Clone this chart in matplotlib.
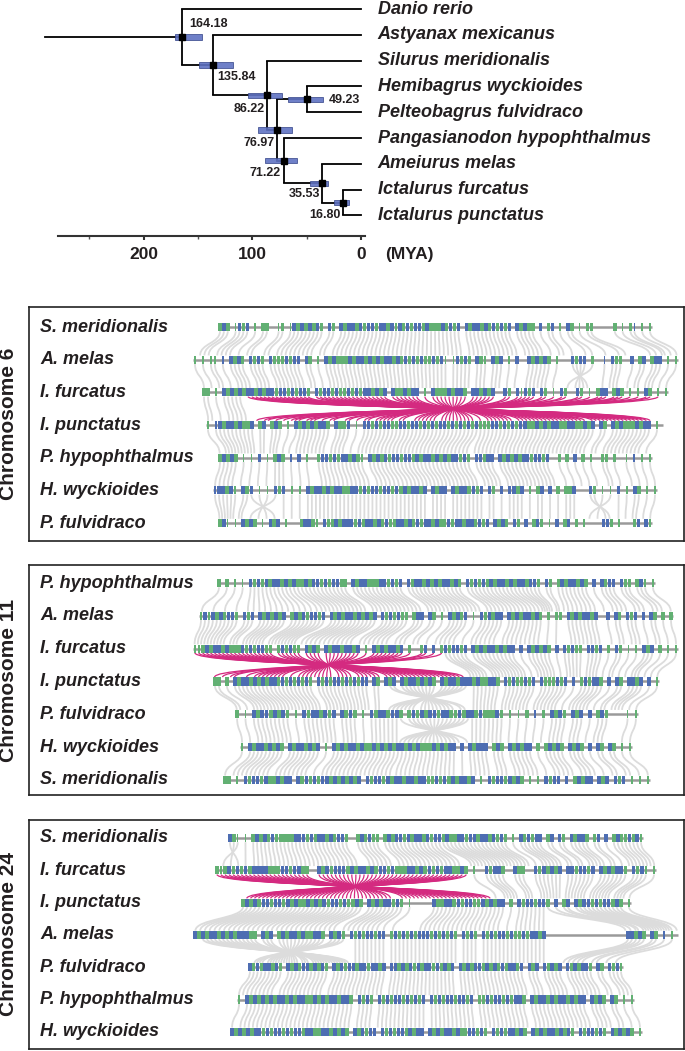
import numpy as np
import matplotlib.pyplot as plt
from matplotlib.path import Path
from matplotlib.patches import PathPatch
from matplotlib.collections import PatchCollection

plt.rcParams['font.family'] = ['Liberation Sans', 'DejaVu Sans']

# ---------------- tree data ----------------
leaves = ["Danio rerio", "Astyanax mexicanus", "Silurus meridionalis",
          "Hemibagrus wyckioides", "Pelteobagrus fulvidraco",
          "Pangasianodon hypophthalmus", "Ameiurus melas",
          "Ictalurus furcatus", "Ictalurus punctatus"]
node_age = [164.18, 135.84, 86.22, 49.23, 76.97, 71.22, 35.53, 16.80]
node_kids = [("L0", "N1"), ("L1", "N2"), ("L2", "N4"), ("L3", "L4"),
             ("N3", "N5"), ("L5", "N6"), ("L6", "N7"), ("L7", "L8")]
hpd_low = [146, 118, 73, 35, 63, 59, 30, 11]
hpd_high = [171, 149, 104, 67, 95, 88, 47, 25]
root_age = 291
time_ticks = [0, 100, 200]
time_minor = [50, 150, 250]

# ---------------- synteny data (positions along the panel) ----------------
# gene strings: g/b = green/blue gene, G/B = small gene, - = no gene
chr6_species = ["S. meridionalis", "A. melas", "I. furcatus", "I. punctatus",
                "P. hypophthalmus", "H. wyckioides", "P. fulvidraco"]
chr6_start = [218, 193, 202, 206, 218, 213, 218]
chr6_end = [652, 678, 668, 663, 652, 657, 652]
chr6_genes = [
    "gbg-Gbgb-G-gg--Gg-Gbgbgbgbg-bg-bgbbgbgbbgbbgbGbgbgbbgbgggbgbgb-bgbbgbgbgbgb-bgbgg-b-gb-G-bg-G-gg-----g-G-gB-G-G",
    "G-G-GG-B-bgbg-bgbg-bgggbgbb-bg-G-bgbgggbgbbgbgbgbbgbgbgbgbggbgbG-Gbgbg-bgG-bgb-G-b--bgbgbg-G---bgbb-g--B-bgg--b-gb-gbb-G-G",
    "gg-G-bgbgbgbbgbgbbgbbgbgbbg-bgbbgbggbgbgbbgbgb-bggbgbb-G-bgggbgbbg-bbgbgb--bg-bGbgb-bg-G-bg--bg-G-gbb-gbg-G-G-bg-G-G",
    "G-Bbgbbgbggb-gb-gbg-G-bgbgbgbbg-bggb-G-bbgbgbbggbbgbbgbgbgbbgbgbgbgbgggbbgbgbgbbggbgbgbbggbbggbgb-bg-bgbgggbgbb-G-",
    "gbgbg-G-G-b-G-gbg-B-b-G--gbbgbgbbgbgG-bgbgbgbbgbbgbgbbgbgbgbbgbg-bbgbb-bgbgbgbbgbbgb--g-g-b-g-G--gg-g--G-B-G-G",
    "BbbgbG-bgb-G-G-bgb-G-G-bgbbgbgbbggbbgbgbbgbbgbgbgbbgb-bgbb-bgbbgbgb-bg-b-bbgb-G-gb-b-g-ggb---bg-G-G-b-G-bg-G-G",
    "gbG-G-bgbg-G-bgb-G---gbbgG-bggbgbbbgbgbbgbgbggbbgbgbgbbgbggbgbbgbbgbgb-bgbg-bg-b-gbg-G-b-gb-g-G----bbg-G---gb-bG",
]
chr6_links = [
    [(218, 560, 198, 572), (560, 600, 572, 640), (604, 652, 642, 678)],
    [(193, 560, 202, 556), (562, 598, 598, 562), (604, 678, 602, 668)],
    [(202, 244, 206, 250)],
    [(206, 300, 218, 292), (300, 480, 296, 470), (480, 663, 474, 652)],
    [(218, 400, 213, 410), (400, 652, 410, 657)],
    [(213, 248, 218, 242), (250, 276, 276, 250), (280, 585, 280, 585),
     (587, 613, 613, 587), (617, 657, 617, 652)],
]
chr6_inversion = (2, 246, 665, 652, 250)

chr11_species = ["P. hypophthalmus", "A. melas", "I. furcatus", "I. punctatus",
                 "P. fulvidraco", "H. wyckioides", "S. meridionalis"]
chr11_start = [217, 199, 193, 213, 235, 240, 223]
chr11_end = [655, 673, 678, 659, 638, 632, 650]
chr11_genes = [
    "g-g-G-G-bgbgbgbbgbgbggbgbbgbgbbgg-bgbbgggbbgbgb-bgbbgbgbgbbgbg-bgbgbgbgbbgbgbbgbbg-bg-gbgbbgbg-b-bgbb-bgg-gbG-G",
    "GbGbgbgbbg-bgb-bgbgbgb-gbgbgbbgb-bgbgbbgbgbgb-bgbgbgg-gbb-bg-G-bgbgb-G-bgbgbb-bgbgbbgbg-g-gg-bgbgbbgb--b-bg-bgb-b-bg-g-g",
    "GGgbgbbgbgggbgbgbbgg-gbgbgg-bgbg-bgbbgbbgb-G-bgbgbbgb-g--gb-b-gbgbbgb-bgbgbbgbgbb-b-bgbgbg-b-bgbgg-bbgb-g-bg-G-G-bgb-g-G-G",
    "gg-g-bgbbgbgbgbbgbgbgbgbg-bgbgbbgbgbgbb-bg-bgb-bgbbgbgbg-bgbbgbbbgbggbbg-bgbggbgb-bgggbgb-b-gbgbbg-b-bg-bbgb-b-G",
    "g-G-bgbbgbgbg-G-bgbbgbgb-bgbg-G-bgbbgbbg-gbgbgbbgbbggbgbbgbgggbg-G-G-g-B-g-bgbg-bgb-b-gbg----G-G",
    "G-bgbbgbgbg-bgbbgbgb-G-bgbgbbgbggbgbgbgbbgbgbgggbgbgbb-b-bgbbb-gbg-bgbgbb-g-gbgbg-bgbg-b-bg-bg-G-G",
    "gg-G-bgbbgbggbgbb-bgbgbgbbgbgbgbgb-bgbbgbgbbgbbgbbggbgbgbgbbgb-G-bgbbgbgbg-G-G-bgbb-b-gbgbb-bgb-bgb-G-G-G",
]
chr11_links = [
    [(217, 300, 199, 320), (300, 520, 320, 540), (522, 560, 542, 565), (562, 655, 568, 673)],
    [(199, 330, 193, 300), (330, 560, 300, 560), (562, 673, 565, 678)],
    [(445, 678, 470, 659)],
    [(213, 385, 235, 385), (387, 468, 468, 387), (470, 659, 470, 638)],
    [(235, 398, 240, 398), (400, 468, 468, 400), (470, 638, 470, 632)],
    [(240, 400, 223, 392), (400, 632, 394, 650)],
]
chr11_inversion = (2, 193, 443, 465, 213)

chr24_species = ["S. meridionalis", "I. furcatus", "I. punctatus", "A. melas",
                 "P. fulvidraco", "P. hypophthalmus", "H. wyckioides"]
chr24_start = [228, 215, 241, 193, 248, 237, 230]
chr24_end = [643, 656, 631, 678, 623, 634, 642]
chr24_genes = [
    "bgG-G-gbgbgbgggggbbbgbgbbgbgbbg--gbgbgg-gbgbbgbgbbgbgbbgbggbbgbbgbbgbgbg-G-bgbgbb-gb-bg-bgbbg-gb-b-gbggbgbG",
    "gGgbgbgbgbbbbgggbbgbbgg--bgbgbbbgbgbbgbgbbgbgggbbgbgbgbgbbggbg-G--bgbbg--bgg--bgbgbgb-bbgbbgb-bgbgbbg-bgbG-G",
    "gbgbgbbgbbgbgbggbgbgbgbbgbggbg-bgbgbbgbg-G-----bggbbgbgbbggbgbgbb-g-bgbbgbbg-b-gb-bgbbgbgbbgbg-G",
    "bgbgbbgbgbgbbbgg-bgb-gbgbbgbggbbg-bgbg-bgbgbbgbb-gbgbgbgbbbgbgbgbg-bgbg-bgbgbbgbggbgbbgb--------------------bbgbg-bg-B-G-",
    "bgbgbbgbg-bgbgbbgbgbg-bgbgbbgbbgbbgb-bbgbgbgbgbbgbgbgb-bgbgbbgbgbgbgbbgb-bgb-bgbgb-bgbgbbg-bg-bgbG",
    "G-bgbgbgbgbbgbgbbggbgbgbbgbbg-bgbg-bgbgbbgbgbgb-bgbgbbgbbgb-ggbgbbgbgbbg-bgbbgbgbbgbgbb-bgbg-bg-G-G",
    "bgbgbgbbgbgbbgbgbbgbbggbbgbgbg-bgbgbb-bgbgbbgbgbb-bgbgbbgbggbbgbg-bgbgbbgbg-bgbgbbgbgbg-bgbbgbg-bgbgbg-G",
]
chr24_links = [
    [(228, 242, 242, 215), (244, 440, 244, 460), (442, 643, 470, 656)],
    [(472, 656, 494, 631)],
    [(241, 400, 193, 380), (400, 545, 382, 545), (547, 631, 625, 678)],
    [(200, 350, 350, 250), (352, 545, 352, 545), (625, 678, 560, 623)],
    [(248, 623, 237, 634)],
    [(237, 634, 230, 642)],
]
chr24_inversion = (1, 215, 470, 492, 243)

GREEN = '#62b073'
BLUE = '#4d6db2'
GREY_LINK = '#dcdcdc'
PINK = '#d42a80'
TXT = '#231f20'

fig = plt.figure(figsize=(6.85, 10.51), dpi=100)
W, H = 685.0, 1051.0

# ================= tree =================
ax = fig.add_axes([0, 1 - 270 / H, 1, 270 / H])
ax.set_xlim(332, -298)
ax.set_ylim(10.116, -0.349)


def node_y(key):
    if key[0] == 'L':
        return float(key[1:])
    kids = node_kids[int(key[1:])]
    return (node_y(kids[0]) + node_y(kids[1])) / 2


def node_x(key):
    if key[0] == 'L':
        return 0.0
    return node_age[int(key[1:])]


lw_tree = 1.3
for n, kids in enumerate(node_kids):
    x = node_age[n]
    ys = [node_y(k) for k in kids]
    ax.plot([x, x], [min(ys), max(ys)], color='black', lw=lw_tree, solid_capstyle='butt', zorder=2)
    for k in kids:
        ax.plot([x, node_x(k)], [node_y(k)] * 2, color='black', lw=lw_tree, zorder=2)
y_root = node_y("N0")
ax.plot([root_age, node_age[0]], [y_root, y_root], color='black', lw=lw_tree, zorder=2)

ny = [node_y("N%d" % n) for n in range(len(node_age))]
ax.barh(ny, np.array(hpd_high) - np.array(hpd_low), left=hpd_low, height=0.2,
        color='#5f72c2', edgecolor='#3a4a8c', linewidth=0.6, alpha=0.9, zorder=3)
ax.plot(node_age, ny, 's', color='black', ms=5, zorder=4)

label_off = [(7, -13, 'left'), (4, 12, 'left'), (-2, 14, 'right'), (21, 1, 'left'),
             (-3, 13, 'right'), (-3, 12, 'right'), (-2, 11, 'right'), (-2, 12, 'right')]
for n, age in enumerate(node_age):
    dx, dy, ha = label_off[n]
    ax.annotate("%.2f" % age, (age, ny[n]), xytext=(dx * 0.72, -dy * 0.72),
                textcoords='offset points', ha=ha, va='center',
                fontsize=9, fontweight='bold', color=TXT)

for i, name in enumerate(leaves):
    ax.text(-15.5, i, name, fontsize=13, fontweight='bold', fontstyle='italic',
            va='center', ha='left', color=TXT)

for s in ['top', 'left', 'right']:
    ax.spines[s].set_visible(False)
ax.spines['bottom'].set_position(('data', 8.80))
ax.spines['bottom'].set_bounds(279, -4)
ax.spines['bottom'].set_linewidth(1.5)
ax.spines['bottom'].set_color('#333333')
ax.set_yticks([])
ax.set_xticks(time_ticks)
ax.set_xticklabels([str(t) for t in time_ticks], fontsize=12.5, fontweight='bold', color=TXT)
ax.set_xticks(time_minor, minor=True)
ax.tick_params(axis='x', which='major', length=3, width=1.5, pad=5, color='#333333')
ax.tick_params(axis='x', which='minor', length=2, width=1, color='#555555')
ax.text(-22, 9.50, "(MYA)", fontsize=12.5, fontweight='bold', ha='left', va='center', color=TXT)
ax.patch.set_visible(False)


# ================= synteny panels =================
def genes_of(start, end, pattern):
    step = (end - start) / len(pattern)
    return [(start + (k + 0.5) * step, ch, step) for k, ch in enumerate(pattern) if ch != '-']


def curve(x0, y0, x1, y1):
    ym = (y0 + y1) / 2
    return PathPatch(Path([(x0, y0), (x0, ym), (x1, ym), (x1, y1)],
                          [Path.MOVETO, Path.CURVE4, Path.CURVE4, Path.CURVE4]))


def draw_panel(ax, names, starts, ends, genes, links, inversion):
    gh = 0.25
    off = 0.13
    grey, pink = [], []
    for r, blocks in enumerate(links):
        top = genes_of(starts[r], ends[r], genes[r])
        for (t0, t1, b0, b1) in blocks:
            for x, ch, st in top:
                if t0 <= x <= t1:
                    xb = b0 + (x - t0) / (t1 - t0) * (b1 - b0)
                    grey.append(curve(x, r + off, xb, r + 1 - off))
    ri, t0, t1, b0, b1 = inversion
    for x, ch, st in genes_of(starts[ri], ends[ri], genes[ri]):
        if t0 <= x <= t1:
            xb = b0 + (x - t0) / (t1 - t0) * (b1 - b0)
            pink.append(curve(x, ri + off, xb, ri + 1 - off))
    ax.add_collection(PatchCollection(grey, facecolor='none', edgecolor=GREY_LINK,
                                      linewidth=1.3, zorder=1))
    ax.add_collection(PatchCollection(pink, facecolor='none', edgecolor=PINK,
                                      linewidth=0.9, zorder=2))
    for r in range(len(names)):
        ax.plot([starts[r], ends[r]], [r, r], color='#9a9a9a', lw=1.8, zorder=3,
                solid_capstyle='butt')
        for col, big, small in [(GREEN, 'g', 'G'), (BLUE, 'b', 'B')]:
            bars = []
            for x, ch, st in genes_of(starts[r], ends[r], genes[r]):
                if ch == big:
                    bars.append((x - 0.45 * st, 0.9 * st))
                elif ch == small:
                    bars.append((x - 0.2 * st, 0.4 * st))
            ax.broken_barh(bars, (r - gh / 2, gh), facecolors=col, edgecolor='none', zorder=4)
        ax.text(40, r, names[r], fontsize=13, fontweight='bold', fontstyle='italic',
                va='center', ha='left', color=TXT)
    ax.set_xticks([])
    ax.set_yticks([])
    for s in ax.spines.values():
        s.set_linewidth(1.2)
        s.set_color('#222222')


panels = [
    ("Chromosome 6", 307, 541, 327, 32.67, chr6_species, chr6_start, chr6_end,
     chr6_genes, chr6_links, chr6_inversion),
    ("Chromosome 11", 565, 795, 583, 32.8, chr11_species, chr11_start, chr11_end,
     chr11_genes, chr11_links, chr11_inversion),
    ("Chromosome 24", 820, 1049, 838, 32.3, chr24_species, chr24_start, chr24_end,
     chr24_genes, chr24_links, chr24_inversion),
]
for (title, top, bot, row0, sp, names, starts, ends, genes, links, inv) in panels:
    pax = fig.add_axes([29 / W, 1 - bot / H, 655 / W, (bot - top) / H])
    pax.set_xlim(29, 684)
    pax.set_ylim((bot - row0) / sp, (top - row0) / sp)
    draw_panel(pax, names, starts, ends, genes, links, inv)
    fig.text(9 / W, 1 - (top + bot) / 2 / H, title, rotation=90, fontsize=15,
             fontweight='bold', ha='center', va='center', color=TXT)

fig.savefig('out.png', dpi=100)
